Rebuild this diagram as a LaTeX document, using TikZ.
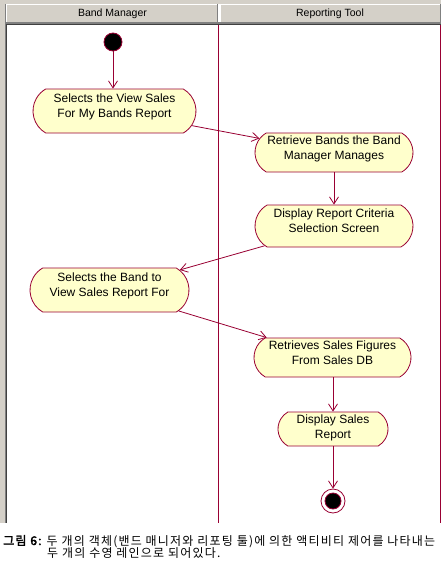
\documentclass[tikz,border=0pt]{standalone}
\usepackage{fontspec}
\usetikzlibrary{shapes.misc,arrows.meta}
\newfontfamily\lib{Liberation Sans}
\newfontfamily\kr[AutoFakeBold=2.5,LetterSpace=10]{Noto Sans CJK KR}
\definecolor{crim}{RGB}{153,0,51}
\definecolor{actfill}{RGB}{255,255,204}
\definecolor{wgray}{RGB}{212,208,200}
\definecolor{dgray}{RGB}{64,64,64}
\definecolor{mgray}{RGB}{128,128,128}
\tikzset{
  act/.style={rounded rectangle, rounded rectangle arc length=120, draw=crim, fill=actfill,
    line width=0.8pt, inner sep=0pt, align=center, text depth=10pt, font=\lib\fontsize{12}{15}\selectfont},
  conn/.style={draw=crim, line width=0.8pt, -{Straight Barb[length=7pt,width=9pt,line width=0.8pt]}},
  lane/.style={draw=crim, line width=1pt},
  hdr/.style={fill=wgray},
  hdrtext/.style={font=\lib\fontsize{10.5}{12}\selectfont, inner sep=0pt},
  captext/.style={font=\kr\fontsize{12}{12}\selectfont, inner sep=0pt, anchor=base west}
}
\begin{document}
\begin{tikzpicture}[x=1pt,y=-1pt]
\useasboundingbox (0,0) rectangle (446,570);
\fill[white] (0,0) rectangle (446,570);
% window chrome
\fill[wgray] (0,0) rectangle (441,4);
\fill[wgray] (0,0) rectangle (6,523);
\fill[mgray] (5,4) rectangle (6,523);
\fill[dgray] (6,4) rectangle (7,523);
\fill[hdr] (6,4) rectangle (218,23);
\fill[hdr] (220,4) rectangle (441,23);
\draw[white, line width=1pt] (6.5,23) -- (6.5,4.5) -- (218,4.5);
\draw[white, line width=1pt] (220.5,23) -- (220.5,4.5) -- (441,4.5);
\draw[mgray, line width=1pt] (217.5,4) -- (217.5,23);
\draw[mgray, line width=1pt] (440.5,4) -- (440.5,23);
\fill[mgray] (6,22) rectangle (441,23.5);
\fill[dgray] (6,23.5) rectangle (441,25);
\node[hdrtext] (h1) at (112.5,14) {Band Manager};
\node[hdrtext] (h2) at (330,14) {Reporting Tool};
% swimlane lines
\draw[lane] (218.5,25) -- (218.5,523);
\draw[lane] (440.5,25) -- (440.5,523);
% activities
\node[circle, fill=black, draw=crim, line width=0.8pt, minimum size=18pt, inner sep=0pt] (s) at (113,42) {};
\node[act, minimum width=163pt, minimum height=44pt] (n1) at (114.5,111) {Selects the View Sales\\For My Bands Report};
\node[act, minimum width=158pt, minimum height=39pt] (n2) at (334,152.5) {Retrieve Bands the Band\\Manager Manages};
\node[act, minimum width=158pt, minimum height=42pt] (n3) at (334,226) {Display Report Criteria\\Selection Screen};
\node[act, minimum width=159pt, minimum height=44pt] (n4) at (109.5,290) {Selects the Band to\\View Sales Report For};
\node[act, minimum width=157pt, minimum height=39pt] (n5) at (332.5,357.5) {Retrieves Sales Figures\\From Sales DB};
\node[act, text depth=4pt, minimum width=110pt, minimum height=34pt] (n6) at (333,429) {Display Sales\\Report};
\node[circle, draw=crim, line width=0.8pt, minimum size=24pt, inner sep=0pt] (e) at (333,501) {};
\node[circle, fill=black, draw=crim, line width=0.8pt, minimum size=16pt, inner sep=0pt] (ei) at (e.center) {};
% connectors
\draw[conn] (s.south) -- (s.south |- n1.north);
\draw[conn] (n1) -- (n2);
\draw[conn] (n2.south) -- (n3.north);
\draw[conn] (n3) -- (n4);
\draw[conn] (n4) -- (n5);
\draw[conn] (n6.north |- n5.south) -- (n6.north);
\draw[conn] (n6.south) -- (e.north);
% caption
\node[captext] (c1) at (3,545) {{\bfseries 그림 6:} 두 개의 객체(밴드 매니저와 리포팅 툴)에 의한 액티비티 제어를 나타내는};
\node[captext] (c2) at (47,557.5) {두 개의 수영 레인으로 되어있다.};
\end{tikzpicture}
\end{document}
